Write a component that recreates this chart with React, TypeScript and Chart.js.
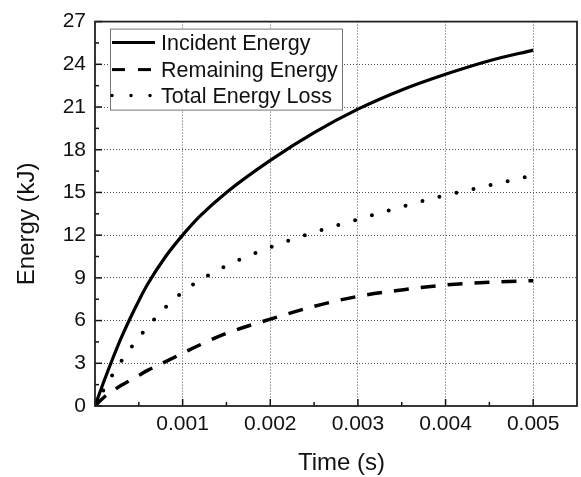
import React, { useEffect, useRef } from "react";
import { Chart, registerables } from "chart.js";

Chart.register(...registerables);

// ---- data ----
const timeS = [0, 0.0001, 0.0002, 0.0003, 0.0004, 0.0005, 0.0006, 0.0008, 0.001, 0.0012, 0.0015, 0.002, 0.0025, 0.003, 0.0035, 0.004, 0.0045, 0.005];
const incidentEnergy = [0, 1.7, 3.3, 4.8, 6.15, 7.4, 8.55, 10.45, 12.0, 13.35, 15.0, 17.25, 19.2, 20.85, 22.2, 23.3, 24.25, 25.0];
const remainingEnergy = [0, 0.6, 1.05, 1.45, 1.8, 2.15, 2.5, 3.1, 3.7, 4.3, 5.1, 6.1, 7.0, 7.7, 8.15, 8.5, 8.7, 8.8];
const totalEnergyLoss = [0, 1.15, 2.2, 3.15, 4.0, 4.8, 5.55, 6.9, 8.0, 8.85, 9.85, 11.15, 12.2, 13.1, 14.0, 14.8, 15.5, 16.2];

const seriesLabels = ["Incident Energy", "Remaining Energy", "Total Energy Loss"];
const xTitle = "Time (s)";
const yTitle = "Energy (kJ)";

const xTickValues = [0.001, 0.002, 0.003, 0.004, 0.005];
const xTickLabels = ["0.001", "0.002", "0.003", "0.004", "0.005"];
const yTickValues = [0, 3, 6, 9, 12, 15, 18, 21, 24, 27];
const yTickLabels = ["0", "3", "6", "9", "12", "15", "18", "21", "24", "27"];
const xMin = 0;
const xMax = 0.0055;
const yMin = 0;
const yMax = 27;

const FONT = "'Liberation Sans', Arial, sans-serif";

const framePlugin = {
  id: "frameAndLegend",
  beforeDraw(chart: any) {
    const { ctx, width, height } = chart;
    ctx.save();
    ctx.fillStyle = "#fff";
    ctx.fillRect(0, 0, width, height);
    ctx.restore();
  },
  afterDatasetsDraw(chart: any) {
    const { ctx, chartArea, scales } = chart;
    const { left, top, right, bottom } = chartArea;
    const x = scales.x;
    const y = scales.y;
    ctx.save();
    ctx.strokeStyle = "#111";
    ctx.lineWidth = 1.5;
    ctx.setLineDash([]);
    // x ticks (inward)
    const xAll = [0, ...xTickValues];
    const xStep = xAll[1] - xAll[0];
    xAll.forEach((v) => {
      const px = x.getPixelForValue(v);
      ctx.beginPath();
      ctx.moveTo(px, bottom);
      ctx.lineTo(px, bottom - 7);
      ctx.stroke();
      const mid = v + xStep / 2;
      if (mid < xMax) {
        const pm = x.getPixelForValue(mid);
        ctx.beginPath();
        ctx.moveTo(pm, bottom);
        ctx.lineTo(pm, bottom - 4);
        ctx.stroke();
      }
    });
    yTickValues.forEach((v, i) => {
      const py = y.getPixelForValue(v);
      ctx.beginPath();
      ctx.moveTo(left, py);
      ctx.lineTo(left + 7, py);
      ctx.stroke();
      if (i < yTickValues.length - 1) {
        const pm = y.getPixelForValue((v + yTickValues[i + 1]) / 2);
        ctx.beginPath();
        ctx.moveTo(left, pm);
        ctx.lineTo(left + 4, pm);
        ctx.stroke();
      }
    });
    // frame
    ctx.lineWidth = 1.8;
    ctx.strokeStyle = "#222";
    ctx.strokeRect(left, top, right - left, bottom - top);

    // axis titles
    ctx.fillStyle = "#111";
    ctx.font = `24px ${FONT}`;
    ctx.textAlign = "center";
    ctx.textBaseline = "alphabetic";
    ctx.fillText(xTitle, (left + right) / 2 + 5.5, 470);
    ctx.save();
    ctx.translate(33.5, (top + bottom) / 2 + 10);
    ctx.rotate(-Math.PI / 2);
    ctx.fillText(yTitle, 0, 0);
    ctx.restore();

    // legend
    const bx = left + 15;
    const by = top + 7;
    const bw = 232;
    const bh = 81;
    ctx.fillStyle = "#fff";
    ctx.fillRect(bx, by, bw, bh);
    ctx.lineWidth = 1;
    ctx.strokeStyle = "#777";
    ctx.strokeRect(bx + 0.5, by + 0.5, bw, bh);
    const rowY = [by + 14, by + 41, by + 67];
    const sx0 = bx + 2;
    const sx1 = bx + 45;
    ctx.strokeStyle = "#000";
    ctx.lineWidth = 3;
    ctx.setLineDash([]);
    ctx.beginPath();
    ctx.moveTo(sx0, rowY[0]);
    ctx.lineTo(sx1, rowY[0]);
    ctx.stroke();
    ctx.setLineDash([13, 13]);
    ctx.beginPath();
    ctx.moveTo(sx0, rowY[1]);
    ctx.lineTo(sx1, rowY[1]);
    ctx.stroke();
    ctx.lineCap = "round";
    ctx.lineWidth = 3.5;
    ctx.setLineDash([0, 19]);
    ctx.beginPath();
    ctx.moveTo(sx0, rowY[2]);
    ctx.lineTo(sx1, rowY[2]);
    ctx.stroke();
    ctx.setLineDash([]);
    ctx.lineCap = "butt";
    ctx.fillStyle = "#111";
    ctx.font = `21.5px ${FONT}`;
    ctx.textBaseline = "middle";
    ctx.textAlign = "left";
    seriesLabels.forEach((t, i) => ctx.fillText(t, bx + 51, rowY[i] + 1));
    ctx.restore();
  },
};

export default function App() {
  const ref = useRef<HTMLCanvasElement | null>(null);
  useEffect(() => {
    if (!ref.current) return;
    const mk = (vals: number[]) => timeS.map((t, i) => ({ x: t, y: vals[i] }));
    const chart = new Chart(ref.current, {
      type: "line",
      data: {
        datasets: [
          {
            label: seriesLabels[0],
            data: mk(incidentEnergy),
            borderColor: "#000",
            borderWidth: 3.2,
            pointRadius: 0,
            cubicInterpolationMode: "monotone",
          },
          {
            label: seriesLabels[1],
            data: mk(remainingEnergy),
            borderColor: "#000",
            borderWidth: 3.5,
            borderDash: [15, 12],
            pointRadius: 0,
            cubicInterpolationMode: "monotone",
          },
          {
            label: seriesLabels[2],
            data: mk(totalEnergyLoss),
            borderColor: "#000",
            borderWidth: 4,
            borderDash: [0, 17.5],
            borderCapStyle: "round",
            pointRadius: 0,
            cubicInterpolationMode: "monotone",
          },
        ],
      },
      options: {
        animation: false,
        responsive: false,
        devicePixelRatio: 1,
        layout: { padding: { top: 17, right: 4, left: 0, bottom: 0 } },
        plugins: { legend: { display: false }, tooltip: { enabled: false } },
        scales: {
          x: {
            type: "linear",
            min: xMin,
            max: xMax,
            afterBuildTicks: (s: any) => {
              s.ticks = xTickValues.map((v) => ({ value: v }));
            },
            afterFit: (s: any) => {
              s.height = 71;
            },
            ticks: {
              color: "#111",
              font: { family: FONT, size: 21 },
              padding: 6,
              maxRotation: 0,
              autoSkip: false,
              callback: (v: any, i: number) => xTickLabels[i],
            },
            grid: {
              color: "#555",
              lineWidth: 1,
              drawTicks: false,
            },
            border: { display: false, dash: [1, 2] },
            title: { display: false },
          },
          y: {
            type: "linear",
            min: yMin,
            max: yMax,
            afterBuildTicks: (s: any) => {
              s.ticks = yTickValues.map((v) => ({ value: v }));
            },
            afterFit: (s: any) => {
              s.width = 95;
            },
            ticks: {
              color: "#111",
              font: { family: FONT, size: 21 },
              padding: 9,
              autoSkip: false,
              callback: (v: any, i: number) => yTickLabels[i],
            },
            grid: {
              color: (c: any) =>
                c.tick && (c.tick.value === yMin || c.tick.value === yMax) ? "rgba(0,0,0,0)" : "#555",
              lineWidth: 1,
              drawTicks: false,
            },
            border: { display: false, dash: [1, 2] },
            title: { display: false },
          },
        },
      } as any,
      plugins: [framePlugin],
    });
    return () => chart.destroy();
  }, []);
  return (
    <div style={{ position: "absolute", left: 0, top: 0, width: 581, height: 477, background: "#fff" }}>
      <canvas ref={ref} width={581} height={477} style={{ display: "block" }} />
    </div>
  );
}
